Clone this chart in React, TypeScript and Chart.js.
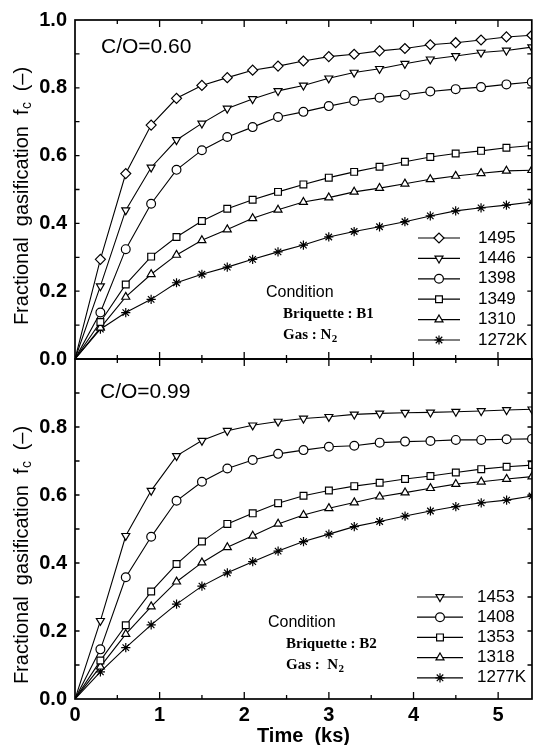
import React, { useEffect, useRef } from 'react';
import { Chart, registerables } from 'chart.js';
import { drawPoint } from 'chart.js/helpers';

Chart.register(...registerables);

// ---------- data ----------
const TIMES = [0, 0.3, 0.6, 0.9, 1.2, 1.5, 1.8, 2.1, 2.4, 2.7, 3.0, 3.3, 3.6, 3.9, 4.2, 4.5, 4.8, 5.1, 5.4];

const TOP_LABELS = ['1495', '1446', '1398', '1349', '1310', '1272K'];
const TOP_1495 = [0, 0.294, 0.547, 0.690, 0.769, 0.807, 0.830, 0.852, 0.864, 0.879, 0.892, 0.899, 0.909, 0.916, 0.927, 0.933, 0.941, 0.950, 0.955];
const TOP_1446 = [0, 0.215, 0.439, 0.565, 0.646, 0.695, 0.739, 0.767, 0.791, 0.807, 0.828, 0.845, 0.856, 0.871, 0.884, 0.894, 0.904, 0.910, 0.920];
const TOP_1398 = [0, 0.137, 0.324, 0.458, 0.558, 0.616, 0.655, 0.684, 0.714, 0.729, 0.746, 0.761, 0.771, 0.779, 0.789, 0.796, 0.802, 0.810, 0.817];
const TOP_1349 = [0, 0.109, 0.220, 0.302, 0.360, 0.407, 0.443, 0.470, 0.493, 0.515, 0.535, 0.552, 0.567, 0.582, 0.596, 0.606, 0.614, 0.623, 0.630];
const TOP_1310 = [0, 0.092, 0.183, 0.250, 0.307, 0.350, 0.382, 0.415, 0.440, 0.463, 0.476, 0.493, 0.504, 0.517, 0.530, 0.540, 0.548, 0.555, 0.557];
const TOP_1272 = [0, 0.088, 0.137, 0.176, 0.225, 0.250, 0.271, 0.294, 0.316, 0.336, 0.360, 0.376, 0.390, 0.405, 0.422, 0.437, 0.446, 0.454, 0.463];

const BOT_LABELS = ['1453', '1408', '1353', '1318', '1277K'];
const BOT_1453 = [0, 0.230, 0.480, 0.613, 0.715, 0.760, 0.789, 0.805, 0.816, 0.825, 0.830, 0.837, 0.840, 0.842, 0.843, 0.845, 0.847, 0.850, 0.852];
const BOT_1408 = [0, 0.146, 0.358, 0.477, 0.583, 0.639, 0.678, 0.703, 0.721, 0.732, 0.742, 0.745, 0.754, 0.757, 0.759, 0.762, 0.762, 0.764, 0.765];
const BOT_1353 = [0, 0.113, 0.217, 0.316, 0.397, 0.463, 0.515, 0.546, 0.576, 0.598, 0.613, 0.626, 0.636, 0.647, 0.656, 0.666, 0.676, 0.683, 0.688];
const BOT_1318 = [0, 0.095, 0.191, 0.272, 0.345, 0.401, 0.446, 0.480, 0.515, 0.541, 0.561, 0.578, 0.595, 0.607, 0.620, 0.632, 0.639, 0.647, 0.654];
const BOT_1277 = [0, 0.080, 0.151, 0.218, 0.279, 0.332, 0.371, 0.404, 0.435, 0.463, 0.485, 0.507, 0.522, 0.538, 0.553, 0.566, 0.577, 0.585, 0.597];

const X_MIN = 0;
const X_MAX = 5.4;
const Y_MIN = 0;
const Y_MAX = 1.0;

const TOP_TITLE = 'C/O=0.60';
const BOT_TITLE = 'C/O=0.99';
const TOP_CONDITION = ['Condition', 'Briquette : B1', 'Gas : N'];
const BOT_CONDITION = ['Condition', 'Briquette : B2', 'Gas :  N'];
const Y_TITLE_PARTS = ['Fractional  gasification  f', 'c', '  (\u2013)'];
const X_TITLE = 'Time  (ks)';

// ---------- styles ----------
const W = 538;
const H = 745;
const SANS = '"Liberation Sans", Arial, Helvetica, sans-serif';
const SERIF = '"Liberation Serif", "Times New Roman", serif';

type Marker = { style: string; radius: number; rotation: number };
const M_DIAMOND: Marker = { style: 'rectRot', radius: 5, rotation: 0 };
const M_TRI_DOWN: Marker = { style: 'triangle', radius: 4.6, rotation: 180 };
const M_CIRCLE: Marker = { style: 'circle', radius: 4.4, rotation: 0 };
const M_SQUARE: Marker = { style: 'rect', radius: 4.8, rotation: 0 };
const M_TRI_UP: Marker = { style: 'triangle', radius: 4.6, rotation: 0 };
const M_STAR: Marker = { style: 'star', radius: 4.6, rotation: 0 };

const TOP_SERIES = [TOP_1495, TOP_1446, TOP_1398, TOP_1349, TOP_1310, TOP_1272];
const TOP_MARKERS = [M_DIAMOND, M_TRI_DOWN, M_CIRCLE, M_SQUARE, M_TRI_UP, M_STAR];
const BOT_SERIES = [BOT_1453, BOT_1408, BOT_1353, BOT_1318, BOT_1277];
const BOT_MARKERS = [M_TRI_DOWN, M_CIRCLE, M_SQUARE, M_TRI_UP, M_STAR];

type Panel = {
  id: string;
  padTop: number;
  padBottom: number;
  showX: boolean;
  hideTopLabel: boolean;
  title: string;
  titlePos: [number, number];
  condition: string[];
  condPos: [number, number, number];
  condRowGap: number;
  legendX: [number, number, number, number];
  legendY0: number;
  legendGap: number;
  yTitleCenter: number;
  labels: string[];
  series: number[][];
  markers: Marker[];
};

const TOP_PANEL: Panel = {
  id: 'top',
  padTop: 18.5,
  padBottom: H - 359,
  showX: false,
  hideTopLabel: false,
  title: TOP_TITLE,
  titlePos: [101, 47],
  condition: TOP_CONDITION,
  condPos: [266, 283, 293],
  condRowGap: 21,
  legendX: [418, 460, 439, 478],
  legendY0: 238,
  legendGap: 20.4,
  yTitleCenter: 196,
  labels: TOP_LABELS,
  series: TOP_SERIES,
  markers: TOP_MARKERS,
};

const BOT_PANEL: Panel = {
  id: 'bot',
  padTop: 359,
  padBottom: 0,
  showX: true,
  hideTopLabel: true,
  title: BOT_TITLE,
  titlePos: [100, 392],
  condition: BOT_CONDITION,
  condPos: [268, 286, 623],
  condRowGap: 21,
  legendX: [417, 463, 440, 477],
  legendY0: 597,
  legendGap: 20.2,
  yTitleCenter: 555,
  labels: BOT_LABELS,
  series: BOT_SERIES,
  markers: BOT_MARKERS,
};

function drawRotatedTitle(ctx: CanvasRenderingContext2D, cx: number, cy: number) {
  ctx.save();
  ctx.translate(cx, cy);
  ctx.rotate(-Math.PI / 2);
  ctx.fillStyle = '#000';
  ctx.textBaseline = 'middle';
  ctx.textAlign = 'left';
  const main = `20px ${SANS}`;
  const sub = `14px ${SANS}`;
  ctx.font = main;
  const w0 = ctx.measureText(Y_TITLE_PARTS[0]).width;
  const w2 = ctx.measureText(Y_TITLE_PARTS[2]).width;
  ctx.font = sub;
  const w1 = ctx.measureText(Y_TITLE_PARTS[1]).width;
  const total = w0 + w1 + w2;
  let x = -total / 2;
  ctx.font = main;
  ctx.fillText(Y_TITLE_PARTS[0], x, 0);
  x += w0;
  ctx.font = sub;
  ctx.fillText(Y_TITLE_PARTS[1], x + 0.5, 5);
  x += w1;
  ctx.font = main;
  ctx.fillText(Y_TITLE_PARTS[2], x, 0);
  ctx.restore();
}

function makePlugin(p: Panel) {
  return {
    id: 'deco_' + p.id,
    afterDraw(chart: any) {
      const { ctx, chartArea: a } = chart;
      const xs = chart.scales.x;
      const ys = chart.scales.y;
      ctx.save();
      ctx.strokeStyle = '#000';
      ctx.lineWidth = 1.7;
      ctx.strokeRect(a.left, a.top, a.right - a.left, a.bottom - a.top);
      ctx.lineWidth = 1.3;
      ctx.beginPath();
      for (let i = 1; i < 10; i++) {
        const py = ys.getPixelForValue(i / 10);
        ctx.moveTo(a.left, py);
        ctx.lineTo(a.left + 4.5, py);
        ctx.moveTo(a.right, py);
        ctx.lineTo(a.right - 4.5, py);
      }
      for (let i = 1; i * 0.5 < X_MAX; i++) {
        const v = i * 0.5;
        const px = xs.getPixelForValue(v);
        const len = i % 2 === 0 ? 7 : 4;
        ctx.moveTo(px, a.bottom);
        ctx.lineTo(px, a.bottom - len);
        ctx.moveTo(px, a.top);
        ctx.lineTo(px, a.top + len);
      }
      ctx.stroke();

      ctx.fillStyle = '#000';
      ctx.textBaseline = 'middle';
      ctx.textAlign = 'left';
      ctx.font = `21px ${SANS}`;
      ctx.fillText(p.title, p.titlePos[0], p.titlePos[1]);

      ctx.font = `16px ${SANS}`;
      ctx.fillText(p.condition[0], p.condPos[0], p.condPos[2]);
      ctx.font = `bold 15px ${SERIF}`;
      ctx.fillText(p.condition[1], p.condPos[1], p.condPos[2] + p.condRowGap);
      const gy = p.condPos[2] + 2 * p.condRowGap;
      ctx.fillText(p.condition[2], p.condPos[1], gy);
      const gw = ctx.measureText(p.condition[2]).width;
      ctx.font = `bold 11px ${SERIF}`;
      ctx.fillText('2', p.condPos[1] + gw + 0.5, gy + 4);

      ctx.font = `17px ${SANS}`;
      p.labels.forEach((lab, i) => {
        const y = p.legendY0 + i * p.legendGap;
        const m = p.markers[i];
        ctx.lineWidth = 1.2;
        ctx.strokeStyle = '#000';
        ctx.beginPath();
        ctx.moveTo(p.legendX[0], y);
        ctx.lineTo(p.legendX[1], y);
        ctx.stroke();
        ctx.fillStyle = '#fff';
        drawPoint(ctx, { pointStyle: m.style as any, radius: m.radius, rotation: m.rotation, borderWidth: 1.2 }, p.legendX[2], y);
        ctx.fillStyle = '#000';
        ctx.fillText(lab, p.legendX[3], y);
      });

      drawRotatedTitle(ctx, 22, p.yTitleCenter);

      if (p.showX) {
        ctx.font = `bold 20px ${SANS}`;
        ctx.textAlign = 'center';
        ctx.textBaseline = 'middle';
        ctx.fillStyle = '#000';
        ctx.fillText(X_TITLE, (a.left + a.right) / 2, 736);
      }
      ctx.restore();
    },
  };
}

function buildConfig(p: Panel): any {
  const datasets = p.series.map((vals, i) => {
    const m = p.markers[i];
    return {
      label: p.labels[i],
      data: TIMES.map((t, j) => ({ x: t, y: vals[j] })),
      borderColor: '#000',
      borderWidth: 1.1,
      backgroundColor: '#fff',
      pointStyle: m.style,
      pointRotation: m.rotation,
      pointRadius: (c: any) => (c.dataIndex === 0 ? 0 : m.radius),
      pointBackgroundColor: '#fff',
      pointBorderColor: '#000',
      pointBorderWidth: 1.2,
      tension: 0,
      fill: false,
    };
  });
  const xScale: any = {
    type: 'linear',
    min: X_MIN,
    max: X_MAX,
    display: p.showX,
    grid: { display: false, drawTicks: false },
    border: { display: false },
    ticks: {
      stepSize: 1,
      includeBounds: false,
      padding: 4,
      color: '#000',
      font: { family: SANS, size: 20, weight: 'bold' },
      callback: (v: number) => String(v),
    },
  };
  if (p.showX) {
    xScale.afterFit = (s: any) => {
      s.height = 46;
    };
  }
  return {
    type: 'line',
    data: { datasets },
    plugins: [makePlugin(p)],
    options: {
      animation: false,
      responsive: false,
      maintainAspectRatio: false,
      events: [],
      layout: { padding: { top: p.padTop, bottom: p.padBottom, left: 0, right: 0 } },
      plugins: { legend: { display: false }, tooltip: { enabled: false }, title: { display: false } },
      scales: {
        x: xScale,
        y: {
          type: 'linear',
          min: Y_MIN,
          max: Y_MAX,
          grid: { display: false, drawTicks: false },
          border: { display: false },
          ticks: {
            stepSize: 0.2,
            padding: 8,
            color: '#000',
            font: { family: SANS, size: 20, weight: 'bold' },
            callback: (v: number) => (p.hideTopLabel && v > 0.95 ? '' : v.toFixed(1)),
          },
          afterFit: (s: any) => {
            s.width = 75;
          },
        },
      },
    },
  };
}

function PanelCanvas({ panel }: { panel: Panel }) {
  const ref = useRef<HTMLCanvasElement | null>(null);
  useEffect(() => {
    if (!ref.current) return;
    const chart = new Chart(ref.current, buildConfig(panel));
    return () => chart.destroy();
  }, [panel]);
  return (
    <canvas
      ref={ref}
      width={W}
      height={H}
      style={{ position: 'absolute', left: 0, top: 0, width: W, height: H }}
    />
  );
}

export default function App() {
  useEffect(() => {
    document.body.style.margin = '0';
    document.body.style.background = '#fff';
  }, []);
  return (
    <div style={{ position: 'relative', width: W, height: H, background: '#fff', overflow: 'hidden' }}>
      <PanelCanvas panel={TOP_PANEL} />
      <PanelCanvas panel={BOT_PANEL} />
    </div>
  );
}
